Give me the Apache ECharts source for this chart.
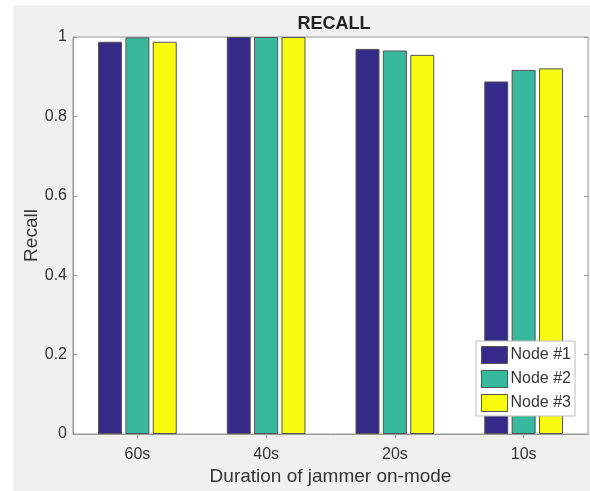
<!DOCTYPE html>
<html><head><meta charset="utf-8">
<script src="https://cdn.jsdelivr.net/npm/echarts@6/dist/echarts.min.js"></script>
<style>html,body{margin:0;padding:0;background:#fff}#c{width:590px;height:491px}</style>
</head><body><div id="c"></div>
<script>
const categories = ['60s', '40s', '20s', '10s'];
const node1 = [0.988, 1.0, 0.970, 0.888];
const node2 = [0.999, 1.0, 0.966, 0.917];
const node3 = [0.988, 1.0, 0.955, 0.921];
const seriesNames = ['Node #1', 'Node #2', 'Node #3'];
const yTicks = [0, 0.2, 0.4, 0.6, 0.8, 1];

const colors = ['#352a87', '#38b99e', '#f9fb0e'];
const font = 'Liberation Sans, Arial, sans-serif';
const txt = '#333333';
const chart = echarts.init(document.getElementById('c'));
const mk = (name, data, i) => ({
  name, type: 'bar', data, xAxisIndex: 0, yAxisIndex: 0,
  barWidth: 24, barGap: '14%',
  itemStyle: { color: colors[i], borderColor: '#555', borderWidth: 1 }
});
chart.setOption({
  animation: false,
  backgroundColor: '#ffffff',
  graphic: [{ type: 'rect', shape: { x: 13, y: 5, width: 577, height: 486 }, style: { fill: '#f0f0f0' }, z: -10 }],
  title: { text: 'RECALL', left: 329, top: 10, textAlign: 'center',
    textStyle: { fontFamily: font, fontSize: 18, fontWeight: 'bold', color: '#222' } },
  grid: { left: 73, right: 2, top: 37, bottom: 56, show: true, backgroundColor: '#fff', borderColor: '#999', borderWidth: 1 },
  legend: {
    orient: 'vertical', right: 15, top: 341, itemWidth: 26, itemHeight: 17, itemGap: 6,
    padding: [5, 4, 4, 5], backgroundColor: '#fff', borderColor: '#bbb', borderWidth: 1,
    textStyle: { fontFamily: font, fontSize: 16, color: txt, padding: [0, 0, 0, -2] },
    data: seriesNames.map((n, i) => ({ name: n, icon: 'rect', itemStyle: { color: colors[i], borderColor: '#555', borderWidth: 1 } }))
  },
  xAxis: [{
    type: 'category', data: categories,
    name: 'Duration of jammer on-mode', nameLocation: 'middle', nameGap: 33, nameMoveOverlap: false,
    nameTextStyle: { fontFamily: font, fontSize: 19, color: txt },
    axisLine: { lineStyle: { color: '#999' } },
    axisTick: { show: true, inside: true, alignWithLabel: true, length: 4, lineStyle: { color: '#999' } },
    axisLabel: { fontFamily: font, fontSize: 16, color: txt, margin: 13 }
  }, {
    type: 'category', data: categories, position: 'top',
    axisLine: { show: false },
    axisTick: { show: true, inside: true, alignWithLabel: true, length: 4, lineStyle: { color: '#999' } },
    axisLabel: { show: false }
  }],
  yAxis: [{
    type: 'value', min: 0, max: 1, interval: 0.2,
    name: 'Recall', nameLocation: 'middle', nameGap: 32, nameMoveOverlap: false,
    nameTextStyle: { fontFamily: font, fontSize: 19, color: txt },
    axisLine: { show: true, lineStyle: { color: '#999' } },
    axisTick: { show: true, inside: true, length: 4, lineStyle: { color: '#999' } },
    splitLine: { show: false },
    axisLabel: { fontFamily: font, fontSize: 16, color: txt, margin: 6,
      formatter: v => { const t = yTicks.find(x => Math.abs(x - v) < 1e-9); return t === undefined ? '' : String(t); } }
  }, {
    type: 'value', min: 0, max: 1, interval: 0.2, position: 'right',
    axisLine: { show: false },
    axisTick: { show: true, inside: true, length: 4, lineStyle: { color: '#999' } },
    splitLine: { show: false }, axisLabel: { show: false }
  }],
  series: [mk(seriesNames[0], node1, 0), mk(seriesNames[1], node2, 1), mk(seriesNames[2], node3, 2)]
});
</script></body></html>
